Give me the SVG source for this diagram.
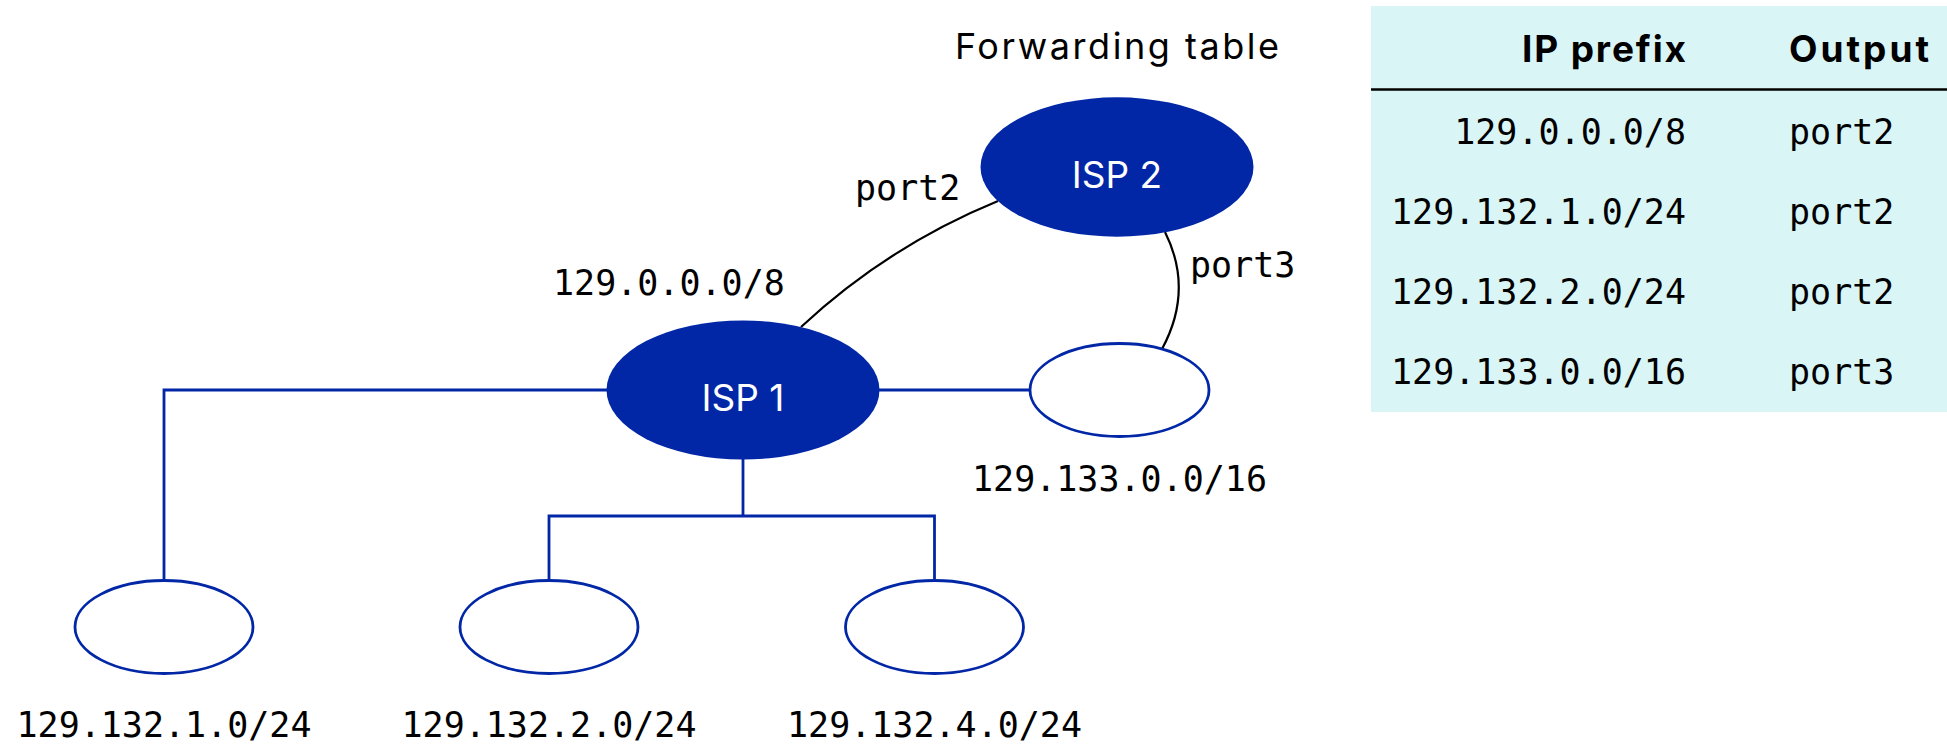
<svg xmlns="http://www.w3.org/2000/svg" width="1947" height="745" viewBox="0 0 1947 745">
<style>
.isp{fill:#0127A7;}
.net{fill:#fff;stroke:#0127A7;stroke-width:2.8;}
.bl{fill:none;stroke:#0127A7;stroke-width:2.8;}
.bk{fill:none;stroke:#000;stroke-width:2.2;}
.mono{font-family:"DejaVu Sans Mono","Liberation Mono",monospace;font-size:35px;fill:#000;}
.sans{font-family:Inter,"Liberation Sans",sans-serif;fill:#000;}
.lab{font-family:Inter,"Liberation Sans",sans-serif;font-size:37px;fill:#fff;text-anchor:middle;}
</style>
<rect x="0" y="0" width="1947" height="745" fill="#fff"/>
<g id="table">
<rect x="1371" y="6" width="576" height="406" fill="#DAF5F5"/>
<line x1="1371" y1="89.5" x2="1947" y2="89.5" stroke="#000" stroke-width="2.5"/>
<text class="sans" x="1686" y="62" font-size="37" font-weight="bold" text-anchor="end" textLength="164" lengthAdjust="spacing">IP prefix</text>
<text class="sans" x="1789" y="62" font-size="37" font-weight="bold" textLength="140" lengthAdjust="spacing">Output</text>
<g class="mono" text-anchor="end">
<text x="1686" y="144">129.0.0.0/8</text>
<text x="1686" y="224">129.132.1.0/24</text>
<text x="1686" y="304">129.132.2.0/24</text>
<text x="1686" y="384">129.133.0.0/16</text>
</g>
<g class="mono">
<text x="1789" y="144">port2</text>
<text x="1789" y="224">port2</text>
<text x="1789" y="304">port2</text>
<text x="1789" y="384">port3</text>
</g>
</g>
<text id="title" class="sans" x="955" y="59" font-size="36" textLength="324" lengthAdjust="spacing">Forwarding table</text>
<g id="connectors">
<path class="bk" d="M801,327 Q888,246 998,201"/>
<path class="bk" d="M1165,232 Q1194,290 1162,349"/>
<path class="bl" d="M607,390 H164 V581"/>
<path class="bl" d="M879,390 H1030"/>
<path class="bl" d="M743,459 V516"/>
<path class="bl" d="M549,581 V516 H934.5 V581"/>
</g>
<g id="isp2">
<ellipse class="isp" cx="1117" cy="167" rx="136.5" ry="69.7"/>
<text class="lab" x="1117" y="188">ISP 2</text>
</g>
<g id="isp1">
<ellipse class="isp" cx="743" cy="390" rx="136.5" ry="69.5"/>
<text class="lab" x="743" y="411">ISP 1</text>
</g>
<g id="net133">
<ellipse class="net" cx="1119.5" cy="390" rx="89.5" ry="46.5"/>
<text class="mono" x="1119.5" y="491" text-anchor="middle">129.133.0.0/16</text>
</g>
<g id="net1">
<ellipse class="net" cx="164" cy="627" rx="89" ry="46.5"/>
<text class="mono" x="164" y="737" text-anchor="middle">129.132.1.0/24</text>
</g>
<g id="net2">
<ellipse class="net" cx="549" cy="627" rx="89" ry="46.5"/>
<text class="mono" x="549" y="737" text-anchor="middle">129.132.2.0/24</text>
</g>
<g id="net4">
<ellipse class="net" cx="934.5" cy="627" rx="89" ry="46.5"/>
<text class="mono" x="934.5" y="737" text-anchor="middle">129.132.4.0/24</text>
</g>
<g id="labels" class="mono">
<text x="553" y="295">129.0.0.0/8</text>
<text x="855" y="200">port2</text>
<text x="1190" y="277">port3</text>
</g>
</svg>
